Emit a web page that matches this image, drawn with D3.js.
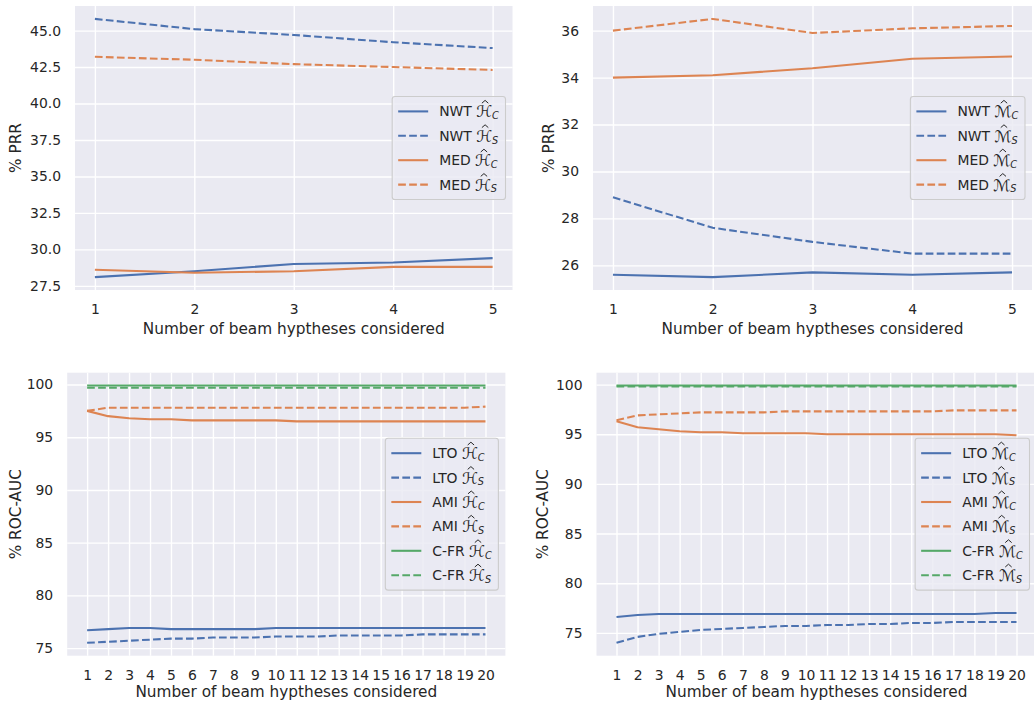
<!DOCTYPE html>
<html><head><meta charset="utf-8">
<script src="https://cdn.jsdelivr.net/npm/d3@7"></script>
<style>body{margin:0;background:#fff}svg{display:block}text{font-family:"DejaVu Sans",sans-serif;fill:#262626}</style>
</head><body><svg id="c" width="1034" height="702"></svg>
<script>
// ---------- data ----------
const xTop = [1, 2, 3, 4, 5];
const xBottom = [1,2,3,4,5,6,7,8,9,10,11,12,13,14,15,16,17,18,19,20];

// top-left: PRR, H
const tlNwtC = [28.1, 28.5, 29.0, 29.1, 29.4];
const tlNwtS = [45.8, 45.1, 44.7, 44.2, 43.8];
const tlMedC = [28.6, 28.4, 28.5, 28.8, 28.8];
const tlMedS = [43.2, 43.0, 42.7, 42.5, 42.3];
// top-right: PRR, M
const trNwtC = [25.6, 25.5, 25.7, 25.6, 25.7];
const trNwtS = [28.9, 27.6, 27.0, 26.5, 26.5];
const trMedC = [34.0, 34.1, 34.4, 34.8, 34.9];
const trMedS = [36.0, 36.5, 35.9, 36.1, 36.2];
// bottom-left: ROC-AUC, H
const blLtoC = [76.7,76.8,76.9,76.9,76.8,76.8,76.8,76.8,76.8,76.9,76.9,76.9,76.9,76.9,76.9,76.9,76.9,76.9,76.9,76.9];
const blLtoS = [75.5,75.6,75.7,75.8,75.9,75.9,76.0,76.0,76.0,76.1,76.1,76.1,76.2,76.2,76.2,76.2,76.3,76.3,76.3,76.3];
const blAmiC = [97.5,97.0,96.8,96.7,96.7,96.6,96.6,96.6,96.6,96.6,96.5,96.5,96.5,96.5,96.5,96.5,96.5,96.5,96.5,96.5];
const blAmiS = [97.5,97.8,97.8,97.8,97.8,97.8,97.8,97.8,97.8,97.8,97.8,97.8,97.8,97.8,97.8,97.8,97.8,97.8,97.8,97.9];
const blCfrC = [99.9,99.9,99.9,99.9,99.9,99.9,99.9,99.9,99.9,99.9,99.9,99.9,99.9,99.9,99.9,99.9,99.9,99.9,99.9,99.9];
const blCfrS = [99.7,99.7,99.7,99.7,99.7,99.7,99.7,99.7,99.7,99.7,99.7,99.7,99.7,99.7,99.7,99.7,99.7,99.7,99.7,99.7];
// bottom-right: ROC-AUC, M
const brLtoC = [76.6,76.8,76.9,76.9,76.9,76.9,76.9,76.9,76.9,76.9,76.9,76.9,76.9,76.9,76.9,76.9,76.9,76.9,77.0,77.0];
const brLtoS = [74.0,74.6,74.9,75.1,75.3,75.4,75.5,75.6,75.7,75.7,75.8,75.8,75.9,75.9,76.0,76.0,76.1,76.1,76.1,76.1];
const brAmiC = [96.3,95.7,95.5,95.3,95.2,95.2,95.1,95.1,95.1,95.1,95.0,95.0,95.0,95.0,95.0,95.0,95.0,95.0,95.0,94.9];
const brAmiS = [96.4,96.9,97.0,97.1,97.2,97.2,97.2,97.2,97.3,97.3,97.3,97.3,97.3,97.3,97.3,97.3,97.4,97.4,97.4,97.4];
const brCfrC = [99.9,99.9,99.9,99.9,99.9,99.9,99.9,99.9,99.9,99.9,99.9,99.9,99.9,99.9,99.9,99.9,99.9,99.9,99.9,99.9];
const brCfrS = [99.8,99.8,99.8,99.8,99.8,99.8,99.8,99.8,99.8,99.8,99.8,99.8,99.8,99.8,99.8,99.8,99.8,99.8,99.8,99.8];

const tlYTicks = [27.5, 30.0, 32.5, 35.0, 37.5, 40.0, 42.5, 45.0];
const trYTicks = [26, 28, 30, 32, 34, 36];
const bYTicks = [75, 80, 85, 90, 95, 100];
const xLabel = "Number of beam hyptheses considered";
const yLabelTop = "% PRR";
const yLabelBottom = "% ROC-AUC";
const methodsTop = ["NWT", "MED"];
const methodsBottom = ["LTO", "AMI", "C-FR"];

// ---------- style ----------
const BLUE = "#4c72b0", ORANGE = "#dd8452", GREEN = "#55a868";
const BG = "#eaeaf2";
const TICK_FS = 13.9, LABEL_FS = 15.3, LEG_FS = 13.9;
const LW = 2.08, DASH = "7.7,3.3";

const svg = d3.select("#c");
svg.append("rect").attr("width", 1034).attr("height", 702).attr("fill", "#fff");

function mk(method, sym, sub, color, dashed, values) {
  return {method, sym, sub, color, dashed, values};
}

const panels = [
  { x0: 75, x1: 512.5, y0: 6, y1: 290, xs: xTop, yTicks: tlYTicks, fmt: d3.format(".1f"),
    yLabel: yLabelTop, yLabX: 16, xLabOff: 38.5, series: [
      mk(methodsTop[0], "H", "C", BLUE, false, tlNwtC),
      mk(methodsTop[0], "H", "S", BLUE, true, tlNwtS),
      mk(methodsTop[1], "H", "C", ORANGE, false, tlMedC),
      mk(methodsTop[1], "H", "S", ORANGE, true, tlMedS)] },
  { x0: 593, x1: 1032, y0: 6, y1: 290, xs: xTop, yTicks: trYTicks, fmt: d3.format("d"),
    yLabel: yLabelTop, yLabX: 549, xLabOff: 38.5, series: [
      mk(methodsTop[0], "M", "C", BLUE, false, trNwtC),
      mk(methodsTop[0], "M", "S", BLUE, true, trNwtS),
      mk(methodsTop[1], "M", "C", ORANGE, false, trMedC),
      mk(methodsTop[1], "M", "S", ORANGE, true, trMedS)] },
  { x0: 67.2, x1: 505.4, y0: 372.7, y1: 655.7, xs: xBottom, yTicks: bYTicks, fmt: d3.format("d"),
    yLabel: yLabelBottom, yLabX: 16, xLabOff: 36.5, series: [
      mk(methodsBottom[0], "H", "C", BLUE, false, blLtoC),
      mk(methodsBottom[0], "H", "S", BLUE, true, blLtoS),
      mk(methodsBottom[1], "H", "C", ORANGE, false, blAmiC),
      mk(methodsBottom[1], "H", "S", ORANGE, true, blAmiS),
      mk(methodsBottom[2], "H", "C", GREEN, false, blCfrC),
      mk(methodsBottom[2], "H", "S", GREEN, true, blCfrS)] },
  { x0: 596.5, x1: 1036.5, y0: 372.7, y1: 655.7, xs: xBottom, yTicks: bYTicks, fmt: d3.format("d"),
    yLabel: yLabelBottom, yLabX: 543, xLabOff: 36.5, series: [
      mk(methodsBottom[0], "M", "C", BLUE, false, brLtoC),
      mk(methodsBottom[0], "M", "S", BLUE, true, brLtoS),
      mk(methodsBottom[1], "M", "C", ORANGE, false, brAmiC),
      mk(methodsBottom[1], "M", "S", ORANGE, true, brAmiS),
      mk(methodsBottom[2], "M", "C", GREEN, false, brCfrC),
      mk(methodsBottom[2], "M", "S", GREEN, true, brCfrS)] }
];

const SYMS = {H: "\u210B", M: "\u2133"};

panels.forEach((p, pi) => {
  const g = svg.append("g");
  const xmin = d3.min(p.xs), xmax = d3.max(p.xs), xpad = (xmax - xmin) * 0.05;
  const x = d3.scaleLinear().domain([xmin - xpad, xmax + xpad]).range([p.x0, p.x1]);
  const all = p.series.flatMap(s => s.values);
  const ymin = d3.min(all), ymax = d3.max(all), ypad = (ymax - ymin) * 0.05;
  const y = d3.scaleLinear().domain([ymin - ypad, ymax + ypad]).range([p.y1, p.y0]);

  g.append("rect").attr("x", p.x0).attr("y", p.y0).attr("width", p.x1 - p.x0)
    .attr("height", p.y1 - p.y0).attr("fill", BG);
  const cid = "clip" + pi;
  svg.append("clipPath").attr("id", cid).append("rect")
    .attr("x", p.x0).attr("y", p.y0).attr("width", p.x1 - p.x0).attr("height", p.y1 - p.y0);

  const xAxis = d3.axisBottom(x).tickValues(p.xs).tickSize(-(p.y1 - p.y0)).tickPadding(14).tickFormat(d3.format("d"));
  const gx = g.append("g").attr("transform", `translate(0,${p.y1})`).call(xAxis);
  const yAxis = d3.axisLeft(y).tickValues(p.yTicks).tickSize(-(p.x1 - p.x0)).tickPadding(14).tickFormat(p.fmt);
  const gy = g.append("g").attr("transform", `translate(${p.x0},0)`).call(yAxis);
  [gx, gy].forEach(a => {
    a.select(".domain").remove();
    a.selectAll(".tick line").attr("stroke", "#fff").attr("stroke-width", 1.39);
    a.selectAll(".tick text").attr("font-size", TICK_FS).attr("fill", "#262626")
      .attr("font-family", '"DejaVu Sans", sans-serif');
  });
  gx.selectAll(".tick text").attr("dy", "0.71em");

  const lg = g.append("g").attr("clip-path", `url(#${cid})`);
  p.series.forEach(s => {
    const line = d3.line().x((d, i) => x(p.xs[i])).y(d => y(d));
    lg.append("path").attr("d", line(s.values)).attr("fill", "none")
      .attr("stroke", s.color).attr("stroke-width", LW)
      .attr("stroke-linejoin", "round")
      .attr("stroke-dasharray", s.dashed ? DASH : null);
  });

  g.append("text").attr("x", (p.x0 + p.x1) / 2).attr("y", p.y1 + p.xLabOff)
    .attr("text-anchor", "middle").attr("dominant-baseline", "central")
    .attr("font-size", LABEL_FS).text(xLabel);
  g.append("text").attr("transform", `translate(${p.yLabX},${(p.y0 + p.y1) / 2}) rotate(-90)`)
    .attr("text-anchor", "middle").attr("dominant-baseline", "central")
    .attr("font-size", LABEL_FS).text(p.yLabel);

  // legend
  const n = p.series.length, rowH = 24.4;
  const lh = n * rowH + 5.4;
  const leg = g.append("g");
  const frame = leg.append("rect");
  const texts = [];
  p.series.forEach((s, i) => {
    const t = leg.append("text").attr("font-size", LEG_FS).attr("dominant-baseline", "central");
    t.append("tspan").text(s.method + " ");
    t.append("tspan").attr("font-size", LEG_FS * 1.15).text(SYMS[s.sym]);
    t.append("tspan").attr("font-size", LEG_FS * 0.7).attr("font-style", "italic")
      .attr("dy", "0.4em").text(s.sub);
    texts.push(t);
  });
  const maxW = d3.max(texts, t => t.node().getBBox().width);
  const lw = 47 + maxW + 6.5;
  const lright = p.x1 - 7;
  const lleft = lright - lw;
  const ltop = (p.y0 + p.y1) / 2 - lh / 2;
  frame.attr("x", lleft).attr("y", ltop).attr("width", lw).attr("height", lh)
    .attr("rx", 2.8).attr("fill", BG).attr("fill-opacity", 0.8)
    .attr("stroke", "#cccccc").attr("stroke-width", 1.1);
  p.series.forEach((s, i) => {
    const cy = ltop + lh / 2 + (i - (n - 1) / 2) * rowH;
    leg.append("line").attr("x1", lleft + 6).attr("x2", lleft + 36).attr("y1", cy).attr("y2", cy)
      .attr("stroke", s.color).attr("stroke-width", LW)
      .attr("stroke-dasharray", s.dashed ? DASH : null);
    const t = texts[i];
    t.attr("x", lleft + 47).attr("y", cy);
    const tn = t.node();
    const idx = tn.textContent.indexOf(SYMS[s.sym]);
    const sx = tn.getStartPositionOfChar(idx).x;
    const ex = tn.getEndPositionOfChar(idx).x;
    const mx = (sx + ex) / 2 + 1;
    const by = cy - 8.2;
    leg.append("path")
      .attr("d", `M${mx - 3.2},${by} L${mx},${by - 2.8} L${mx + 3.2},${by}`)
      .attr("fill", "none").attr("stroke", "#262626").attr("stroke-width", 1.0);
  });
});
</script></body></html>
